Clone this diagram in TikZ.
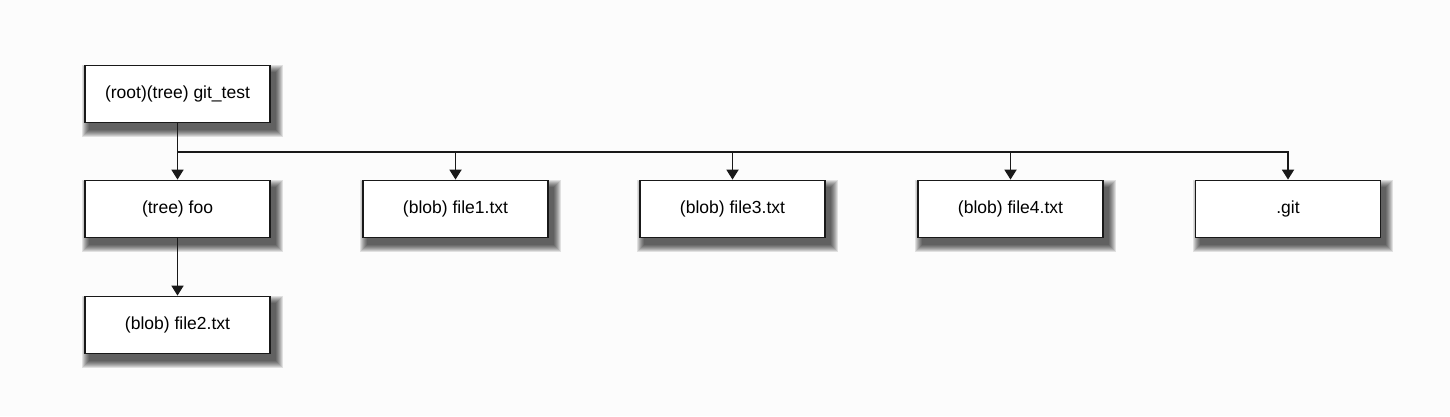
\documentclass[tikz,border=0pt]{standalone}
\usepackage{fontspec}
\setmainfont{Liberation Sans}
\usetikzlibrary{arrows.meta,calc,backgrounds}
\definecolor{bg}{HTML}{FCFCFC}
\tikzset{
  box/.style={draw=black!90, line width=1.8pt, fill=white, minimum width=185pt, minimum height=57pt,
    inner sep=0pt, font=\fontsize{17.5}{20}\selectfont},
  arr/.style={line width=1.8pt, draw=black!90, -{Triangle[width=12pt,length=10pt]}},
  shadowlayer/.style={fill=black, opacity=0.11}
}
\begin{document}
\begin{tikzpicture}[x=1pt,y=-1pt]
\useasboundingbox (0,0) rectangle (1450,416);
\node[box] (root) at (177.5,94) {\raisebox{-2pt}{(root)(tree) git\_test}};
\node[box] (foo) at (177.5,209) {\raisebox{-2pt}{(tree) foo}};
\node[box] (file2) at (177.5,325) {\raisebox{-2pt}{(blob) file2.txt}};
\node[box] (file1) at (455.5,209) {\raisebox{-2pt}{(blob) file1.txt}};
\node[box] (file3) at (732.5,209) {\raisebox{-2pt}{(blob) file3.txt}};
\node[box] (file4) at (1010.5,209) {\raisebox{-2pt}{(blob) file4.txt}};
\node[box] (git) at (1288,209) {\raisebox{-2pt}{.git}};
\draw[arr] (root.south) -- (foo.north);
\draw[arr] (foo.south) -- (file2.north);
\foreach \t in {file1,file3,file4,git}
  \draw[arr] (root.south) |- ([yshift=28pt]\t.north) -- (\t.north);
\begin{scope}[on background layer]
\fill[bg] (0,0) rectangle (1450,416);
\foreach \n in {root,foo,file2,file1,file3,file4,git}
  \foreach \r in {0,...,7}
    \fill[shadowlayer] ([shift={(5-\r,7-\r)}]\n.north west) rectangle ([shift={(5+\r,7+\r)}]\n.south east);
\end{scope}
\end{tikzpicture}
\end{document}
